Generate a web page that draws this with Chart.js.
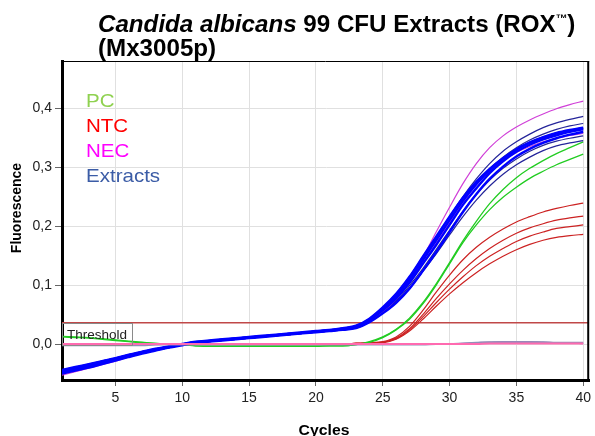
<!DOCTYPE html>
<html><head><meta charset="utf-8">
<script src="https://cdn.jsdelivr.net/npm/chart.js@4/dist/chart.umd.min.js"></script>
<style>html,body{margin:0;padding:0;background:#fff;}#wrap{width:595px;height:436px;}</style>
</head><body><div id="wrap"><canvas id="c" width="595" height="436"></canvas></div>
<script>
const cycles = [1,2,3,4,5,6,7,8,9,10,11,12,13,14,15,16,17,18,19,20,21,22,23,24,25,26,27,28,29,30,31,32,33,34,35,36,37,38,39,40];
const xTicks = [5,10,15,20,25,30,35,40];
const yTicks = [0,0.1,0.2,0.3,0.4];
const thresholdValue = 0.036;
const legendLabels = ["PC","NTC","NEC","Extracts"];
const titleItalic = "Candida albicans";
const titleRest = " 99 CFU Extracts (ROX";
const titleLine2 = "(Mx3005p)";
const xTitle = "Cycles";
const yTitle = "Fluorescence";

// Extracts (bright blue)
const extract1 = [-0.047,-0.042,-0.037,-0.032,-0.026,-0.020,-0.015,-0.010,-0.005,-0.001,0.003,0.005,0.007,0.009,0.011,0.013,0.015,0.017,0.019,0.021,0.023,0.025,0.029,0.040,0.057,0.077,0.104,0.136,0.168,0.202,0.236,0.264,0.290,0.310,0.326,0.338,0.347,0.354,0.360,0.364];
const extract2 = [-0.044,-0.039,-0.034,-0.029,-0.024,-0.018,-0.013,-0.008,-0.004,0.000,0.004,0.006,0.008,0.010,0.012,0.014,0.016,0.018,0.020,0.022,0.024,0.027,0.031,0.043,0.062,0.085,0.114,0.148,0.182,0.216,0.248,0.275,0.297,0.315,0.330,0.341,0.350,0.357,0.362,0.366];
const extract3 = [-0.050,-0.045,-0.040,-0.034,-0.028,-0.022,-0.016,-0.011,-0.006,-0.002,0.002,0.004,0.006,0.008,0.010,0.012,0.014,0.016,0.018,0.020,0.022,0.024,0.027,0.037,0.052,0.070,0.094,0.124,0.156,0.190,0.224,0.254,0.280,0.301,0.318,0.331,0.341,0.349,0.355,0.360];
const extract4 = [-0.046,-0.041,-0.036,-0.030,-0.025,-0.019,-0.014,-0.009,-0.005,-0.001,0.003,0.005,0.007,0.009,0.011,0.013,0.015,0.017,0.019,0.021,0.023,0.026,0.030,0.041,0.059,0.081,0.109,0.142,0.176,0.210,0.243,0.271,0.295,0.314,0.330,0.342,0.351,0.358,0.363,0.367];
// Extracts (dark blue)
const extract5 = [-0.044,-0.039,-0.034,-0.029,-0.024,-0.018,-0.013,-0.008,-0.004,0.000,0.004,0.006,0.008,0.010,0.012,0.014,0.016,0.018,0.020,0.022,0.024,0.027,0.031,0.043,0.062,0.085,0.114,0.148,0.180,0.216,0.250,0.280,0.306,0.327,0.343,0.356,0.367,0.375,0.381,0.386];
const extract6 = [-0.045,-0.040,-0.035,-0.030,-0.024,-0.019,-0.013,-0.009,-0.004,0.000,0.003,0.005,0.007,0.009,0.011,0.013,0.015,0.017,0.019,0.021,0.023,0.026,0.030,0.042,0.060,0.082,0.111,0.144,0.176,0.210,0.243,0.272,0.297,0.317,0.333,0.346,0.356,0.364,0.370,0.374];
const extract7 = [-0.048,-0.043,-0.038,-0.032,-0.027,-0.021,-0.015,-0.010,-0.005,-0.001,0.002,0.004,0.006,0.008,0.010,0.012,0.014,0.016,0.018,0.020,0.022,0.024,0.028,0.038,0.054,0.073,0.099,0.128,0.160,0.193,0.225,0.254,0.278,0.298,0.314,0.327,0.337,0.344,0.349,0.353];
const extract8 = [-0.049,-0.044,-0.039,-0.033,-0.027,-0.021,-0.016,-0.011,-0.006,-0.002,0.002,0.004,0.006,0.008,0.010,0.012,0.014,0.016,0.018,0.020,0.022,0.024,0.027,0.037,0.052,0.070,0.094,0.123,0.153,0.185,0.216,0.244,0.268,0.288,0.304,0.317,0.328,0.336,0.341,0.345];
// NEC (magenta)
const nec1 = [-0.053,-0.047,-0.041,-0.035,-0.029,-0.022,-0.016,-0.011,-0.006,-0.002,0.002,0.004,0.006,0.008,0.010,0.012,0.014,0.016,0.018,0.020,0.022,0.025,0.030,0.042,0.058,0.080,0.110,0.147,0.190,0.232,0.272,0.306,0.333,0.353,0.368,0.380,0.390,0.399,0.406,0.412];
const nec2 = [-0.051,-0.046,-0.040,-0.034,-0.028,-0.022,-0.016,-0.011,-0.006,-0.002,0.002,0.004,0.006,0.008,0.010,0.012,0.014,0.016,0.018,0.020,0.022,0.024,0.028,0.038,0.055,0.076,0.104,0.137,0.171,0.206,0.240,0.270,0.293,0.311,0.325,0.335,0.343,0.349,0.354,0.357];
// PC (green)
const pc1 = [0.013,0.012,0.011,0.009,0.007,0.005,0.003,0.001,0.000,-0.001,-0.003,-0.003,-0.003,-0.003,-0.003,-0.003,-0.003,-0.003,-0.003,-0.003,-0.003,-0.003,-0.001,0.004,0.012,0.025,0.044,0.070,0.102,0.138,0.175,0.208,0.238,0.262,0.282,0.298,0.311,0.323,0.333,0.343];
const pc2 = [0.012,0.011,0.010,0.008,0.006,0.004,0.002,0.001,0.000,-0.001,-0.003,-0.004,-0.004,-0.004,-0.004,-0.004,-0.004,-0.004,-0.004,-0.004,-0.003,-0.003,-0.001,0.003,0.011,0.024,0.042,0.068,0.100,0.136,0.172,0.202,0.228,0.249,0.266,0.281,0.293,0.304,0.313,0.322];
// NTC (red)
const ntc1 = [0.000,0.000,0.000,0.000,0.000,0.000,0.000,0.000,0.000,0.000,0.000,0.000,0.000,0.000,0.000,0.000,0.000,0.000,0.000,0.000,0.000,0.000,0.001,0.002,0.004,0.012,0.030,0.057,0.088,0.117,0.143,0.164,0.181,0.195,0.207,0.216,0.224,0.230,0.235,0.239];
const ntc2 = [0.000,0.000,0.000,0.000,0.000,0.000,0.000,0.000,0.000,0.000,0.000,0.000,0.000,0.000,0.000,0.000,0.000,0.000,0.000,0.000,0.000,0.000,0.001,0.002,0.003,0.010,0.026,0.050,0.077,0.102,0.125,0.145,0.162,0.176,0.188,0.197,0.204,0.210,0.214,0.217];
const ntc3 = [0.000,0.000,0.000,0.000,0.000,0.000,0.000,0.000,0.000,0.000,0.000,0.000,0.000,0.000,0.000,0.000,0.000,0.000,0.000,0.000,0.000,0.000,0.001,0.002,0.003,0.009,0.024,0.046,0.070,0.093,0.114,0.133,0.149,0.162,0.174,0.183,0.190,0.196,0.199,0.202];
const ntc4 = [0.000,0.000,0.000,0.000,0.000,0.000,0.000,0.000,0.000,0.000,0.000,0.000,0.000,0.000,0.000,0.000,0.000,0.000,0.000,0.000,0.000,0.000,0.001,0.001,0.002,0.008,0.022,0.042,0.064,0.085,0.104,0.121,0.136,0.149,0.160,0.169,0.176,0.181,0.184,0.186];
// flat negative traces
const flatPink = [0.000,0.000,0.000,0.000,0.000,0.000,0.000,0.000,0.000,0.000,0.000,0.000,0.000,0.000,0.000,0.000,0.000,0.000,0.000,0.000,0.000,0.000,0.000,0.000,0.000,0.000,0.000,0.000,0.000,0.000,0.000,0.000,0.001,0.001,0.001,0.001,0.001,0.001,0.001,0.001];
const flatGray = [-0.002,-0.002,-0.002,-0.002,-0.002,-0.002,-0.002,-0.001,-0.001,-0.001,-0.001,-0.001,-0.001,-0.001,-0.001,-0.001,-0.001,-0.001,-0.001,-0.001,-0.001,-0.001,-0.001,-0.001,-0.001,-0.001,-0.001,-0.001,0.000,0.000,0.001,0.002,0.003,0.003,0.003,0.003,0.003,0.002,0.002,0.002];
const flatPurple = [-0.001,-0.001,-0.001,-0.001,-0.001,-0.001,-0.001,-0.001,0.000,0.000,0.000,0.000,0.000,0.000,0.000,0.000,0.000,0.000,0.000,0.000,0.000,0.000,0.000,0.000,0.000,0.000,0.000,0.000,0.000,0.000,0.001,0.002,0.003,0.004,0.004,0.004,0.003,0.002,0.002,0.001];

const X_MIN = 1, X_MAX = 40.45, Y_MIN = -0.061, Y_MAX = 0.48;

function pts(arr){ return arr.map((v,i)=>({x:cycles[i], y:v})); }
function ds(arr, color, width){ return {data:pts(arr), borderColor:color, borderWidth:width, pointRadius:0, fill:false, cubicInterpolationMode:'monotone'}; }

const BRIGHT='#0000ff', NAVY='#25259a', MAG='#d040d8', GREEN='#22cc22', RED='#cc2222';
const datasets = [
  ds(flatPink,'#ff6ab0',2),
  ds(flatGray,'#9090b8',2),
  ds(flatPurple,'#b070c0',1.5),
  ds(extract1,BRIGHT,2.4), ds(extract2,BRIGHT,2.4), ds(extract3,BRIGHT,2.4), ds(extract4,BRIGHT,2.4),
  ds(nec1,MAG,1.2), ds(nec2,MAG,1.2),
  ds(extract5,NAVY,1.2), ds(extract6,NAVY,1.2), ds(extract7,NAVY,1.2), ds(extract8,NAVY,1.2),
  ds(pc1,GREEN,1.3), ds(pc2,GREEN,1.3),
  ds(ntc1,RED,1.2), ds(ntc2,RED,1.2), ds(ntc3,RED,1.2), ds(ntc4,RED,1.2),
  {data:[{x:X_MIN,y:thresholdValue},{x:X_MAX,y:thresholdValue}], borderColor:'#c04848', borderWidth:1.5, pointRadius:0, fill:false}
];

const FONT = '"Liberation Sans", Arial, sans-serif';
const deco = {
  id:'deco',
  afterDraw(chart){
    const ctx = chart.ctx, a = chart.chartArea;
    const ys = chart.scales.y;
    ctx.save();
    ctx.strokeStyle='#000'; ctx.lineWidth=1;
    ctx.beginPath(); ctx.moveTo(a.left, a.top+0.5); ctx.lineTo(a.right, a.top+0.5); ctx.stroke();
    ctx.lineWidth=2;
    ctx.beginPath(); ctx.moveTo(a.right-1, a.top); ctx.lineTo(a.right-1, a.bottom); ctx.stroke();
    const ty = ys.getPixelForValue(thresholdValue);
    ctx.lineWidth=1; ctx.strokeStyle='#8a8a8a';
    ctx.strokeRect(a.left+0.5, Math.round(ty)+0.5, 70, 22);
    ctx.fillStyle='#222'; ctx.font='13.5px '+FONT; ctx.textBaseline='alphabetic'; ctx.textAlign='left';
    ctx.fillText('Threshold', a.left+5, ty+16);
    const legColors=['#8fd150','#ff0000','#ff00ff','#3b5ca6'];
    ctx.font='19px '+FONT;
    legendLabels.forEach((t,i)=>{
      ctx.save(); ctx.translate(a.left+24, 107+i*25); ctx.scale(1.08,1);
      ctx.fillStyle=legColors[i]; ctx.fillText(t,0,0); ctx.restore();
    });
    ctx.fillStyle='#000';
    ctx.save(); ctx.translate(98,32); ctx.scale(1.05,1);
    ctx.font='italic bold 23px '+FONT; ctx.fillText(titleItalic,0,0);
    let w = ctx.measureText(titleItalic).width;
    ctx.font='bold 23px '+FONT; ctx.fillText(titleRest,w,0);
    w += ctx.measureText(titleRest).width;
    ctx.font='bold 11px '+FONT; ctx.fillText('\u2122',w,-10);
    w += ctx.measureText('\u2122').width;
    ctx.font='bold 23px '+FONT; ctx.fillText(')',w,0);
    ctx.fillText(titleLine2,0,24);
    ctx.restore();
    ctx.font='bold 15px '+FONT; ctx.textAlign='center';
    ctx.save(); ctx.translate(324,435); ctx.scale(1.05,1); ctx.fillText(xTitle,0,0); ctx.restore();
    ctx.save(); ctx.translate(21,208); ctx.rotate(-Math.PI/2); ctx.font='bold 14px '+FONT; ctx.fillText(yTitle,0,0); ctx.restore();
    ctx.restore();
  }
};

new Chart(document.getElementById('c'), {
  type:'line',
  data:{datasets},
  plugins:[deco],
  options:{
    responsive:false, animation:false, devicePixelRatio:1,
    layout:{padding:{top:61,right:1,left:0,bottom:0}},
    plugins:{legend:{display:false}, tooltip:{enabled:false}, title:{display:false}},
    scales:{
      x:{type:'linear', min:X_MIN, max:X_MAX,
        afterFit(s){ s.height=56; },
        afterBuildTicks(s){ s.ticks = xTicks.map(v=>({value:v})); },
        grid:{color:'#e0e0e0', lineWidth:1, tickLength:6, tickColor:'#666'},
        border:{color:'#000', width:3},
        ticks:{font:{family:FONT,size:14}, color:'#222', padding:4, maxRotation:0, callback:v=>String(v)}
      },
      y:{type:'linear', min:Y_MIN, max:Y_MAX,
        afterFit(s){ s.width=62; },
        afterBuildTicks(s){ s.ticks = yTicks.map(v=>({value:v})); },
        grid:{color:'#e0e0e0', lineWidth:1, tickLength:7, tickColor:'#666'},
        border:{color:'#000', width:3},
        ticks:{font:{family:FONT,size:14}, color:'#222', padding:3, callback:v=>v.toFixed(1).replace('.',',')}
      }
    }
  }
});
</script></body></html>
